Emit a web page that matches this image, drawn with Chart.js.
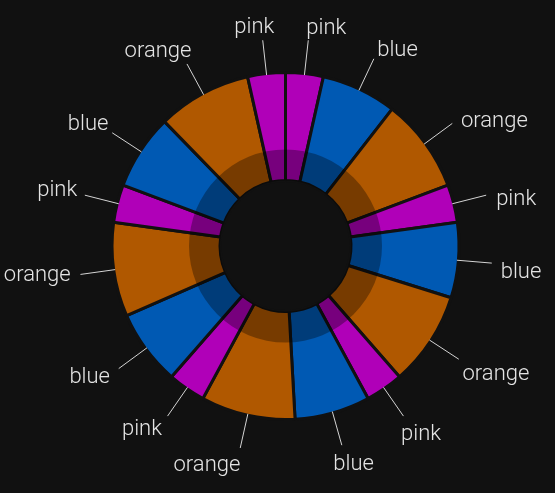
<!DOCTYPE html>
<html>
<head>
<meta charset="utf-8">
<script src="https://cdn.jsdelivr.net/npm/chart.js@4.4.1/dist/chart.umd.min.js"></script>
<style>
  html, body { margin: 0; padding: 0; background: #111111; }
  #wrap { width: 555px; height: 493px; }
</style>
</head>
<body>
<div id="wrap"><canvas id="c" width="555" height="493"></canvas></div>
<script>
// ---- data ----
const categories = ['pink','blue','orange','pink','blue','orange','pink','blue','orange','pink','blue','orange','pink','blue','orange','pink'];
const values     = [10, 20, 25, 10, 20, 25, 10, 20, 25, 10, 20, 25, 10, 20, 25, 10];
const palette = { pink: '#b000b8', blue: '#0059b3', orange: '#b05800' };

const BG = '#111111';
const BORDER = 3;
const OUTER = 173.5;
const INNER = 65.5;
const SHADE = 31;       // width of the darker inner band
const LINE_LEN = 35;    // leader line length beyond slice edge
const FONT = '300 22px Roboto';
const DEG = Math.PI / 180;

const outLabels = {
  id: 'outLabels',
  afterDatasetsDraw(chart) {
    const meta = chart.getDatasetMeta(0);
    const ctx = chart.ctx;
    const a0 = meta.data[0];
    const cx = a0.x, cy = a0.y;
    const rin = a0.innerRadius, rout = a0.outerRadius;
    ctx.save();
    // darker inner band
    ctx.beginPath();
    ctx.arc(cx, cy, rin + SHADE, 0, Math.PI * 2);
    ctx.arc(cx, cy, rin, 0, Math.PI * 2, true);
    ctx.closePath();
    ctx.fillStyle = 'rgba(0,0,0,0.32)';
    ctx.fill();

    const edge = rout - BORDER / 2;
    ctx.font = FONT;
    ctx.textBaseline = 'middle';
    meta.data.forEach((arc, i) => {
      const a = (arc.startAngle + arc.endAngle) / 2;
      const ux = Math.cos(a), uy = Math.sin(a);
      const ex = cx + ux * (edge + LINE_LEN), ey = cy + uy * (edge + LINE_LEN);
      // leader line
      ctx.beginPath();
      ctx.moveTo(cx + ux * edge, cy + uy * edge);
      ctx.lineTo(ex, ey);
      ctx.strokeStyle = '#d4d4d4';
      ctx.lineWidth = 1;
      ctx.stroke();
      // label placement (clockwise angle from top)
      const th = a + Math.PI / 2;
      const s = Math.sin(th), c = Math.cos(th);
      const right = s >= 0;
      let t = (th / DEG) % 180; if (t < 0) t += 180;
      const gx = -8.8 + 18.8 * Math.cos((t - 75) * DEG);
      const gy = 3.5 - 15.5 * c + 4.5 * s;
      const txt = chart.data.labels[i];
      ctx.textAlign = right ? 'left' : 'right';
      ctx.fillStyle = '#e4e4e4';
      ctx.fillText(txt, ex + (right ? gx : -gx), ey + gy);
    });
    ctx.restore();
  }
};

function draw() {
  new Chart(document.getElementById('c'), {
    type: 'doughnut',
    data: {
      labels: categories,
      datasets: [{
        data: values,
        backgroundColor: categories.map(c => palette[c]),
        borderColor: BG,
        borderWidth: BORDER,
        hoverOffset: 0
      }]
    },
    options: {
      responsive: false,
      animation: false,
      events: [],
      radius: OUTER,
      cutout: (INNER / OUTER * 100) + '%',
      layout: { padding: { left: 16, right: 0, top: 0, bottom: 1 } },
      plugins: { legend: { display: false }, tooltip: { enabled: false } }
    },
    plugins: [outLabels]
  });
}
if (document.fonts && document.fonts.load) {
  document.fonts.load(FONT).then(draw, draw);
} else { draw(); }
</script>
</body>
</html>
